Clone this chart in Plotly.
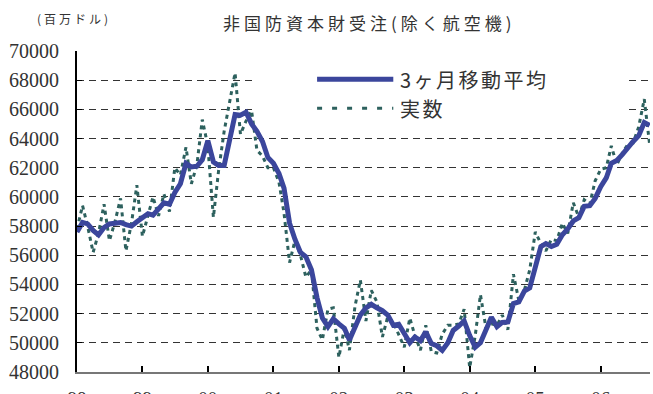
import pandas as pd
import plotly.graph_objects as go

# Monthly data, Jan 1998 - Oct 2006 (million USD)
start_month = "1998-01-01"
moving_avg_3m = [
    57600, 58250, 58150, 57700, 57400, 57900, 58150, 58200, 58250, 58100, 58000, 58300,
    58600, 58850, 58750, 59150, 59600, 59500, 60300, 60900, 62300, 62050, 62100, 62550,
    63850, 62400, 62150, 62150, 64000, 65650, 65600, 65800, 65000, 64500, 63800, 62700,
    62300, 61600, 60600, 58200, 57100, 56200, 55900, 55000, 53100, 51700, 51100, 51650,
    51300, 51000, 50200, 51000, 51900, 52400, 52640, 52400, 52200, 51900, 51200, 51270,
    50700, 50000, 50400, 50150, 50750, 49950, 49800, 49480, 50000, 50850, 51150, 51500,
    50500, 49700, 50000, 50900, 51750, 51100, 51400, 51430, 52690, 52800, 53550, 53760,
    55200, 56600, 56800, 56600, 56750, 57400, 57800, 58350, 58580, 59350, 59400, 59900,
    60700, 61300, 62300, 62500, 62900, 63400, 63800, 64200, 65100, 64900,
]
actual = [
    57800, 59400, 58000, 56200, 57500, 59500, 57000, 58300, 59900, 56300, 58200, 60800,
    57300, 58800, 60000, 58700, 60200, 59000, 62000, 61500, 63400, 60900, 62200, 65300,
    63500, 58600, 61800, 64500, 66500, 68500, 64300, 65200, 65900, 63200, 62800, 62000,
    62000, 61000, 58900, 55500, 57000, 56000, 54500, 55000, 51000, 50200, 52300, 52400,
    49000, 51000, 49500, 52500, 54300, 51500, 53600, 52800, 50400, 51800, 51400, 50600,
    49700, 51700, 50500, 49500, 51200, 49400, 49300, 50600, 51200, 51200, 51300, 52300,
    48300, 50500, 53300, 51000, 51300, 51200, 51900, 50900, 54700, 52900, 53600, 55000,
    57600, 56800, 56300, 57100, 57000, 58200, 57500, 59600, 58600, 59800, 59500, 61100,
    61900, 62000, 63500, 62200, 63000, 63600, 63700, 64800, 66700, 63600,
]
year_ticks = ["1998-01-01", "1999-01-01", "2000-01-01", "2001-01-01", "2002-01-01",
              "2003-01-01", "2004-01-01", "2005-01-01", "2006-01-01"]
year_labels = ["98", "99", "00", "01", "02", "03", "04", "05", "06"]
y_ticks = [48000, 50000, 52000, 54000, 56000, 58000, 60000, 62000, 64000, 66000, 68000, 70000]
y_labels = [str(v) for v in y_ticks]

title_text = "非国防資本財受注(除く航空機)"
unit_text = "(百万ドル)"
name_ma = "3ヶ月移動平均"
name_actual = "実数"

months = pd.date_range(start_month, periods=len(actual), freq="MS")

BLUE = "#3b469c"
TEAL = "#2d615e"
SERIF = "Liberation Serif, DejaVu Serif, Noto Sans CJK JP, serif"
CJK = "Noto Sans CJK JP, Noto Sans CJK SC, sans-serif"

fig = go.Figure()
fig.add_trace(go.Scatter(
    x=months, y=actual, mode="lines", name=name_actual,
    line=dict(color=TEAL, width=3, dash="4px,4px"), showlegend=False,
))
fig.add_trace(go.Scatter(
    x=months, y=moving_avg_3m, mode="lines", name=name_ma,
    line=dict(color=BLUE, width=5), showlegend=False,
))

# white legend background (between gridlines and traces)
fig.add_shape(type="rect", xref="x", yref="y",
              x0="2000-09-10", x1="2006-06-01", y0=65115, y1=69227,
              fillcolor="white", line=dict(width=0), layer="between")
# manual legend samples
fig.add_shape(type="line", xref="paper", yref="paper",
              x0=0.419, x1=0.552, y0=0.912, y1=0.912,
              line=dict(color=BLUE, width=5))
fig.add_shape(type="line", xref="paper", yref="paper",
              x0=0.419, x1=0.552, y0=0.822, y1=0.822,
              line=dict(color=TEAL, width=3, dash="5px,10px"))
fig.add_annotation(xref="paper", yref="paper", x=0.56, y=0.912,
                   xanchor="left", yanchor="middle", showarrow=False,
                   text=f'<span style="letter-spacing:2.5px">{name_ma}</span>',
                   font=dict(family=CJK, size=20, color="#333333"))
fig.add_annotation(xref="paper", yref="paper", x=0.56, y=0.822,
                   xanchor="left", yanchor="middle", showarrow=False,
                   text=f'<span style="letter-spacing:2.5px">{name_actual}</span>',
                   font=dict(family=CJK, size=20, color="#333333"))
# title and unit
fig.add_annotation(xref="paper", yref="paper", x=0.511, y=1.0,
                   xanchor="center", yanchor="bottom", yshift=14, showarrow=False,
                   text=f'<span style="letter-spacing:4px">{title_text}</span>',
                   font=dict(family=CJK, size=17, color="#333333"))
fig.add_annotation(xref="paper", yref="paper", x=-0.0728, y=1.0,
                   xanchor="left", yanchor="bottom", yshift=22, showarrow=False,
                   text=f'<span style="letter-spacing:3px">{unit_text}</span>',
                   font=dict(family=CJK, size=12, color="#333333"))

fig.update_layout(
    width=653, height=394,
    margin=dict(l=77, r=3, t=51, b=22, autoexpand=False),
    paper_bgcolor="white", plot_bgcolor="white",
    showlegend=False,
)
fig.update_xaxes(
    range=["1998-01-01", "2006-10-03"],
    tickvals=year_ticks, ticktext=year_labels,
    ticks="inside", ticklen=6, tickwidth=1.5, tickcolor="black",
    showline=True, linecolor="#777777", linewidth=2,
    showgrid=False, zeroline=False, automargin=False,
    tickfont=dict(family=SERIF, size=19, color="#333333"),
    ticklabelstandoff=8,
)
fig.update_yaxes(
    range=[48000, 70000], tickvals=y_ticks, ticktext=y_labels,
    ticks="inside", ticklen=5, tickwidth=1, tickcolor="black",
    showline=True, linecolor="black", linewidth=2,
    showgrid=True, gridcolor="#333333", gridwidth=1, griddash="7px,5px",
    zeroline=False, automargin=False,
    tickfont=dict(family=SERIF, size=20, color="#333333"),
    ticklabelstandoff=12,
)

fig.write_html("out.html")
